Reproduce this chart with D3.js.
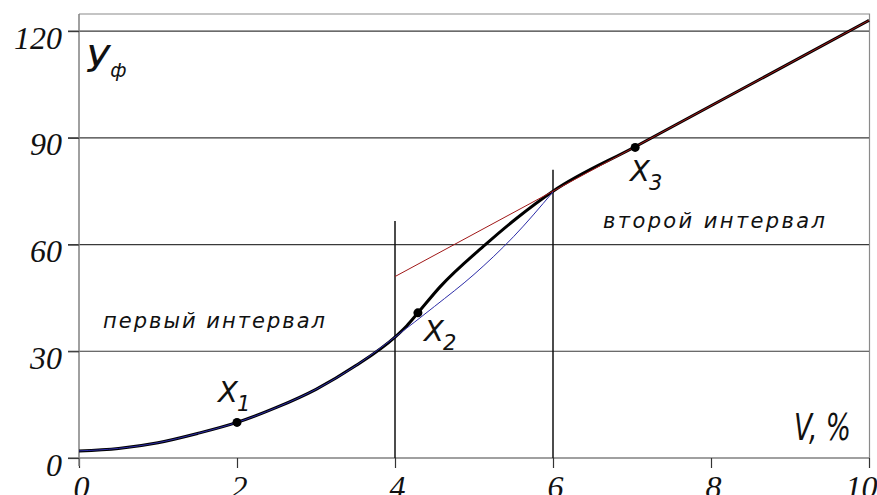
<!DOCTYPE html>
<html>
<head>
<meta charset="utf-8">
<script src="https://cdn.jsdelivr.net/npm/d3@7"></script>
<style>
  html, body { margin: 0; padding: 0; background: #fff; }
  svg { display: block; }
  .tick-label { font-family: "Liberation Serif", "DejaVu Serif", serif; font-style: italic; font-size: 32px; fill: #111; }
  .cad { font-family: "DejaVu Sans", sans-serif; font-style: italic; fill: #111; }
</style>
</head>
<body>
<svg id="chart" width="877" height="495"></svg>
<script>
// Axis ticks
const xTicks = [0, 2, 4, 6, 8, 10];
const yTicks = [0, 30, 60, 90, 120];

// First-interval fit (blue), v in %, y value
const fitOneV = [0, 0.5, 1, 1.5, 2, 2.5, 3, 3.5, 4, 4.5, 5, 5.5, 6];
const fitOneY = [2.0, 2.7, 4.3, 6.9, 10.0, 14.2, 19.3, 25.9, 34.0, 42.6, 51.6, 62.2, 74.8];

// Second-interval fit (red straight line)
const fitTwoV = [4, 10];
const fitTwoY = [51, 123];

// Resulting characteristic (thick black)
const resultV = [0, 0.5, 1, 1.5, 2, 2.5, 3, 3.5, 4, 4.15, 4.29, 4.57, 5.14, 5.54, 6, 7.04, 10];
const resultY = [2.0, 2.7, 4.3, 6.9, 10.0, 14.2, 19.3, 25.9, 34.0, 37.2, 40.8, 48.1, 59.9, 67.4, 75.0, 87.5, 123];

// Interval boundaries and the height of their marker lines
const boundV = [4, 6];
const boundTop = [66.6, 81.0];

// Marked points
const pointV = [2, 4.29, 7.04];
const pointY = [10, 40.8, 87.3];
const pointSub = ["1", "2", "3"];

const svg = d3.select("#chart");
const mLeft = 79, mRight = 869, mTop = 14, mBottom = 458;

const x = d3.scaleLinear().domain([0, 10]).range([mLeft, mRight]);
const y = d3.scaleLinear().domain([0, 124.8]).range([mBottom, mTop]);

// Frame (top and right edges)
svg.append("path")
  .attr("d", `M${mLeft},${mTop}H${mRight + 0.5}V${mBottom}`)
  .attr("fill", "none").attr("stroke", "#8a8a8a").attr("stroke-width", 1.2);

// Horizontal grid lines including the tick stub left of the axis
svg.append("g").selectAll("line")
  .data(yTicks.filter(d => d > 0))
  .join("line")
  .attr("x1", mLeft - 11).attr("x2", mRight)
  .attr("y1", d => y(d)).attr("y2", d => y(d))
  .attr("stroke", "#3a3a3a").attr("stroke-width", 1.2);

// X axis
const xAxis = svg.append("g")
  .attr("transform", `translate(0,${mBottom})`)
  .call(d3.axisBottom(x).tickValues(xTicks).tickSize(10).tickSizeOuter(0).tickFormat(d3.format("d")));
xAxis.select(".domain").attr("stroke", "#808080").attr("stroke-width", 1.5)
  .attr("d", `M${mLeft - 11},0H${mRight}`);
xAxis.selectAll(".tick line").attr("stroke", "#333").attr("stroke-width", 1.2);
xAxis.selectAll(".tick text").attr("class", "tick-label").attr("y", 40).attr("dy", 0)
  .attr("text-anchor", d => d === 10 ? "end" : "middle")
  .attr("x", d => d === 10 ? 8 : 2);

// Y axis
const yAxis = svg.append("g")
  .attr("transform", `translate(${mLeft},0)`)
  .call(d3.axisLeft(y).tickValues(yTicks).tickSize(11).tickSizeOuter(0).tickFormat(d3.format("d")));
yAxis.select(".domain").attr("stroke", "#808080").attr("stroke-width", 1.5)
  .attr("d", `M0,${mTop}V${mBottom + 8}`);
yAxis.selectAll(".tick line").attr("stroke", "#3a3a3a").attr("stroke-width", 1.2);
yAxis.selectAll(".tick text").attr("class", "tick-label").attr("x", -17).attr("dy", 17);

// Interval boundary lines
svg.append("g").selectAll("line")
  .data(boundV)
  .join("line")
  .attr("x1", d => x(d)).attr("x2", d => x(d))
  .attr("y1", (d, i) => y(boundTop[i])).attr("y2", mBottom)
  .attr("stroke", "#111").attr("stroke-width", 1.5);

const line = d3.line().x(d => x(d[0])).y(d => y(d[1])).curve(d3.curveMonotoneX);

// Resulting characteristic
svg.append("path")
  .datum(resultV.map((v, i) => [v, resultY[i]]))
  .attr("d", line)
  .attr("fill", "none").attr("stroke", "#000").attr("stroke-width", 3)
  .attr("stroke-linejoin", "round");

// Fits drawn on top as thin lines
svg.append("path")
  .datum(fitOneV.map((v, i) => [v, fitOneY[i]]))
  .attr("d", line)
  .attr("fill", "none").attr("stroke", "#2c2ca8").attr("stroke-width", 1);

svg.append("path")
  .datum(fitTwoV.map((v, i) => [v, fitTwoY[i]]))
  .attr("d", line)
  .attr("fill", "none").attr("stroke", "#a01818").attr("stroke-width", 1);

// Marked points
svg.append("g").selectAll("circle")
  .data(pointV)
  .join("circle")
  .attr("cx", d => x(d)).attr("cy", (d, i) => y(pointY[i]))
  .attr("r", 4.5).attr("fill", "#000");

// Point labels X with subscript
const labelPos = [[218, 402], [424, 341], [630, 181]];
pointSub.forEach((s, i) => {
  const t = svg.append("text").attr("class", "cad")
    .attr("x", labelPos[i][0]).attr("y", labelPos[i][1])
    .style("font-size", "29px");
  t.append("tspan").text("X");
  t.append("tspan").attr("dx", -1).attr("dy", 9).style("font-size", "21px").text(s);
});

// Axis titles
const yt = svg.append("text").attr("class", "cad").attr("x", 86).attr("y", 72).style("font-size", "38px");
yt.append("tspan").text("У");
yt.append("tspan").attr("dx", 1).attr("dy", 5).style("font-size", "19px").text("ф");

svg.append("text").attr("class", "cad")
  .attr("x", 794).attr("y", 440).style("font-size", "38px")
  .attr("textLength", 57).attr("lengthAdjust", "spacingAndGlyphs")
  .text("V, %");

// Interval captions
svg.append("text").attr("class", "cad")
  .attr("x", 103).attr("y", 328).style("font-size", "21px")
  .attr("textLength", 222).attr("lengthAdjust", "spacing")
  .text("первый  интервал");

svg.append("text").attr("class", "cad")
  .attr("x", 603).attr("y", 228).style("font-size", "21px")
  .attr("textLength", 222).attr("lengthAdjust", "spacing")
  .text("второй  интервал");
</script>
</body>
</html>
